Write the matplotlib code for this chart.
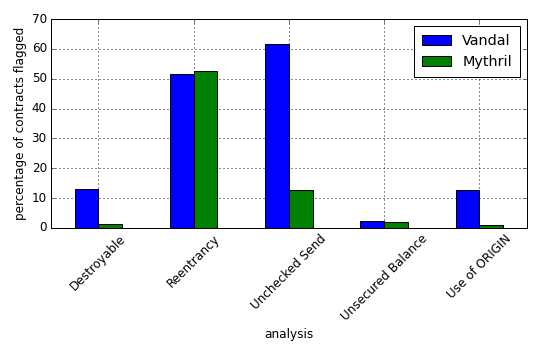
import matplotlib
matplotlib.use("Agg")
import matplotlib.pyplot as plt
import numpy as np

plt.style.use("classic")

analyses = [
    "Destroyable",
    "Reentrancy",
    "Unchecked Send",
    "Unsecured Balance",
    "Use of ORIGIN",
]
vandal = [13.1, 51.6, 61.6, 2.4, 12.6]
mythril = [1.3, 52.6, 12.8, 2.0, 1.1]

WIDTH = 0.25

# 540x360 px at 72 dpi
fig = plt.figure(figsize=(7.5, 5.0), dpi=72)
fig.patch.set_facecolor("white")
ax = fig.add_axes([0.094, 0.367, 0.882, 0.58])

x = np.arange(len(analyses))
ax.bar(x - WIDTH, vandal, WIDTH, align="edge", color="blue", label="Vandal")
ax.bar(x, mythril, WIDTH, align="edge", color="green", label="Mythril")

ax.set_xlim(-0.5, len(analyses) - 0.5)
ax.set_ylim(0, 70)
ax.set_xticks(x)
ax.set_xticklabels(analyses, rotation=45)
ax.grid(True, linewidth=0.9)
ax.set_axisbelow(True)
ax.set_xlabel("analysis")
ax.set_ylabel("percentage of contracts flagged")
ax.legend(loc="upper right", borderpad=0.55)

fig.savefig("out.png", dpi=72, facecolor="white")
